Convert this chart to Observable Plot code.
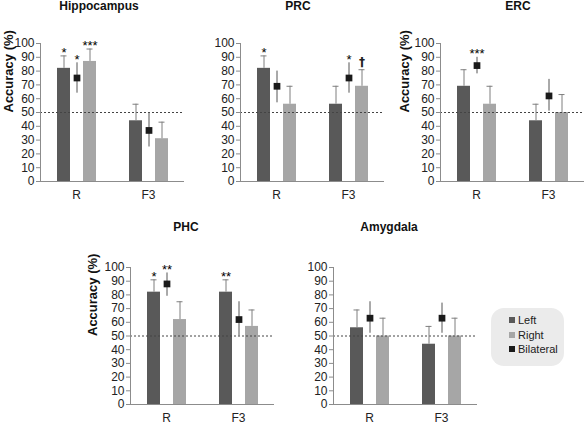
<!DOCTYPE html>
<html>
<head>
<meta charset="utf-8">
<script src="https://cdn.jsdelivr.net/npm/d3@7"></script>
<script src="https://cdn.jsdelivr.net/npm/@observablehq/plot@0.6"></script>
<style>
  html, body { margin: 0; padding: 0; background: #fff; overflow: hidden; }
  #chart { position: relative; width: 585px; height: 425px; font-family: "Liberation Sans", Arial, sans-serif; color: #222; }
  .panel { position: absolute; }
  .title { position: absolute; width: 200px; text-align: center; font-weight: bold; font-size: 12px; line-height: 12px; color: #111; }
  .legend { position: absolute; background: #ebebeb; border-radius: 13px; font-size: 11px; }
  .legend .item { position: absolute; white-space: nowrap; line-height: 12px; }
  .legend .sw { display: inline-block; width: 6px; height: 6px; margin-right: 3px; vertical-align: 1px; }
</style>
</head>
<body>
<div id="chart"></div>
<script>
// ---- data ----
const regions = ["Hippocampus", "PRC", "ERC", "PHC", "Amygdala"];
const conditions = ["R", "F3"];
const sides = ["Left", "Bilateral", "Right"];
const sideColors = ["#595959", "#1a1a1a", "#a6a6a6"];
const legendOrder = ["Left", "Right", "Bilateral"];
const yTicks = [0, 10, 20, 30, 40, 50, 60, 70, 80, 90, 100];
const chanceLevel = [50];
const yLabel = "Accuracy (%)";

// per region: [R, F3]
const leftMean   = [[82, 44], [82, 56], [69, 44], [82, 82], [56, 44]];
const leftUpper  = [[91, 56], [91, 69], [81, 56], [91, 91], [69, 57]];
const rightMean  = [[87, 31], [56, 69], [56, 50], [62, 57], [50, 50]];
const rightUpper = [[96, 43], [69, 81], [69, 63], [75, 69], [63, 63]];
const bilatMean  = [[75, 37], [69, 75], [84, 62], [88, 62], [63, 63]];
const bilatLower = [[64, 25], [57, 64], [78, 51], [79, 50], [52, 52]];
const bilatUpper = [[86, 50], [80, 86], [90, 74], [96, 75], [75, 74]];

// significance markers
const sigRegion = ["Hippocampus", "Hippocampus", "Hippocampus", "PRC", "PRC", "PRC", "ERC", "PHC", "PHC", "PHC"];
const sigCond   = ["R", "R", "R", "R", "F3", "F3", "R", "R", "R", "F3"];
const sigSide   = ["Left", "Bilateral", "Right", "Left", "Bilateral", "Right", "Bilateral", "Left", "Bilateral", "Left"];
const sigLabel  = ["*", "*", "***", "*", "*", "\u2020", "***", "*", "**", "**"];

// ---- layout (page coordinates of each plot frame) ----
const panels = [
  {region: "Hippocampus", frameX: 40,  frameY: 43,  titleX: 99,  titleTop: 0,   showLabel: true,  labelDx: -32},
  {region: "PRC",         frameX: 240, frameY: 43,  titleX: 298, titleTop: 0,   showLabel: false, labelDx: 0},
  {region: "ERC",         frameX: 440, frameY: 43,  titleX: 518, titleTop: 0,   showLabel: true,  labelDx: -35.5},
  {region: "PHC",         frameX: 130, frameY: 267, titleX: 186, titleTop: 221, showLabel: true,  labelDx: -38},
  {region: "Amygdala",    frameX: 333, frameY: 267, titleX: 389, titleTop: 221, showLabel: false, labelDx: 0}
];

const ML = 50, MR = 1, MT = 20, MB = 25, FW = 144;
const chart = document.getElementById("chart");

function drawPanel(cfg) {
  const r = regions.indexOf(cfg.region);
  const bars = [];
  conditions.forEach((c, j) => {
    bars.push({cond: c, side: "Left", value: leftMean[r][j], hi: leftUpper[r][j]});
    bars.push({cond: c, side: "Right", value: rightMean[r][j], hi: rightUpper[r][j]});
  });
  const bil = conditions.map((c, j) => ({cond: c, side: "Bilateral", value: bilatMean[r][j], lo: bilatLower[r][j], hi: bilatUpper[r][j]}));
  const all = bars.concat(bil);
  const sig = sigLabel
    .map((l, i) => ({region: sigRegion[i], cond: sigCond[i], side: sigSide[i], label: l}))
    .filter(d => d.region === cfg.region)
    .map(d => ({...d, hi: all.find(b => b.cond === d.cond && b.side === d.side).hi}));
  const frameH = cfg.frameY < 100 ? 138 : 137;

  const marks = [
    Plot.barY(bars, {fx: "cond", x: "side", y: "value", fill: "side"}),
    Plot.ruleY(chanceLevel, {stroke: "#444", strokeDasharray: "2,2", strokeWidth: 1}),
    Plot.ruleX(bars, {fx: "cond", x: "side", y1: "value", y2: "hi", stroke: "#7f7f7f"}),
    Plot.tickY(bars, {fx: "cond", x: "side", y: "hi", stroke: "#7f7f7f", insetLeft: 3.5, insetRight: 3.5}),
    Plot.ruleX(bil, {fx: "cond", x: "side", y1: "lo", y2: "hi", stroke: "#555"}),
    Plot.dot(bil, {fx: "cond", x: "side", y: "value", symbol: "square", fill: "side", r: 3.8}),
    Plot.ruleY([0], {stroke: "#8c8c8c"}),
    Plot.frame({anchor: "left", stroke: "#8c8c8c", facetAnchor: "left"}),
    Plot.axisY({ticks: yTicks, tickSize: 4, tickPadding: 2, stroke: "#8c8c8c", label: null, fontSize: 12}),
    Plot.axisFx({anchor: "bottom", tickSize: 0, tickPadding: 9, label: null, fontSize: 12}),
    Plot.text(sig.filter(d => d.label !== "\u2020"), {fx: "cond", x: "side", y: "hi", text: "label", lineAnchor: "bottom", dy: 1, fontSize: 13, fill: "black"}),
    Plot.text(sig.filter(d => d.label === "\u2020"), {fx: "cond", x: "side", y: "hi", text: "label", lineAnchor: "bottom", dy: -4, fontSize: 12, fontWeight: "bold", fill: "#222", fontFamily: "'DejaVu Sans'"})
  ];
  if (cfg.showLabel) {
    marks.push(Plot.text([yLabel], {frameAnchor: "left", rotate: -90, dx: cfg.labelDx, fontWeight: "bold", fontSize: 13, fill: "#111", facetAnchor: "left"}));
  }

  const svg = Plot.plot({
    width: ML + FW + MR,
    height: MT + frameH + MB,
    marginLeft: ML, marginRight: MR, marginTop: MT, marginBottom: MB,
    style: {fontFamily: "'Liberation Sans', Arial, sans-serif", fontSize: "12px", color: "#222", background: "transparent", overflow: "visible"},
    fx: {domain: conditions, padding: 0, label: null},
    x: {domain: sides, paddingInner: 0, paddingOuter: 1.167, axis: null},
    y: {domain: [0, 100], label: null},
    color: {domain: sides, range: sideColors},
    marks
  });
  svg.classList.add("panel");
  svg.style.left = (cfg.frameX - ML) + "px";
  svg.style.top = (cfg.frameY - MT) + "px";
  chart.appendChild(svg);

  const t = document.createElement("div");
  t.className = "title";
  t.textContent = cfg.region;
  t.style.left = (cfg.titleX - 100) + "px";
  t.style.top = cfg.titleTop + "px";
  chart.appendChild(t);
}

panels.forEach(drawPanel);

// legend
const legend = document.createElement("div");
legend.className = "legend";
Object.assign(legend.style, {left: "491px", top: "308px", width: "73px", height: "58px"});
legendOrder.forEach((s, i) => {
  const item = document.createElement("div");
  item.className = "item";
  item.style.left = "18px";
  item.style.top = (6 + i * 14.6) + "px";
  const sw = document.createElement("span");
  sw.className = "sw";
  sw.style.background = sideColors[sides.indexOf(s)];
  item.appendChild(sw);
  item.appendChild(document.createTextNode(s));
  legend.appendChild(item);
});
chart.appendChild(legend);
</script>
</body>
</html>
